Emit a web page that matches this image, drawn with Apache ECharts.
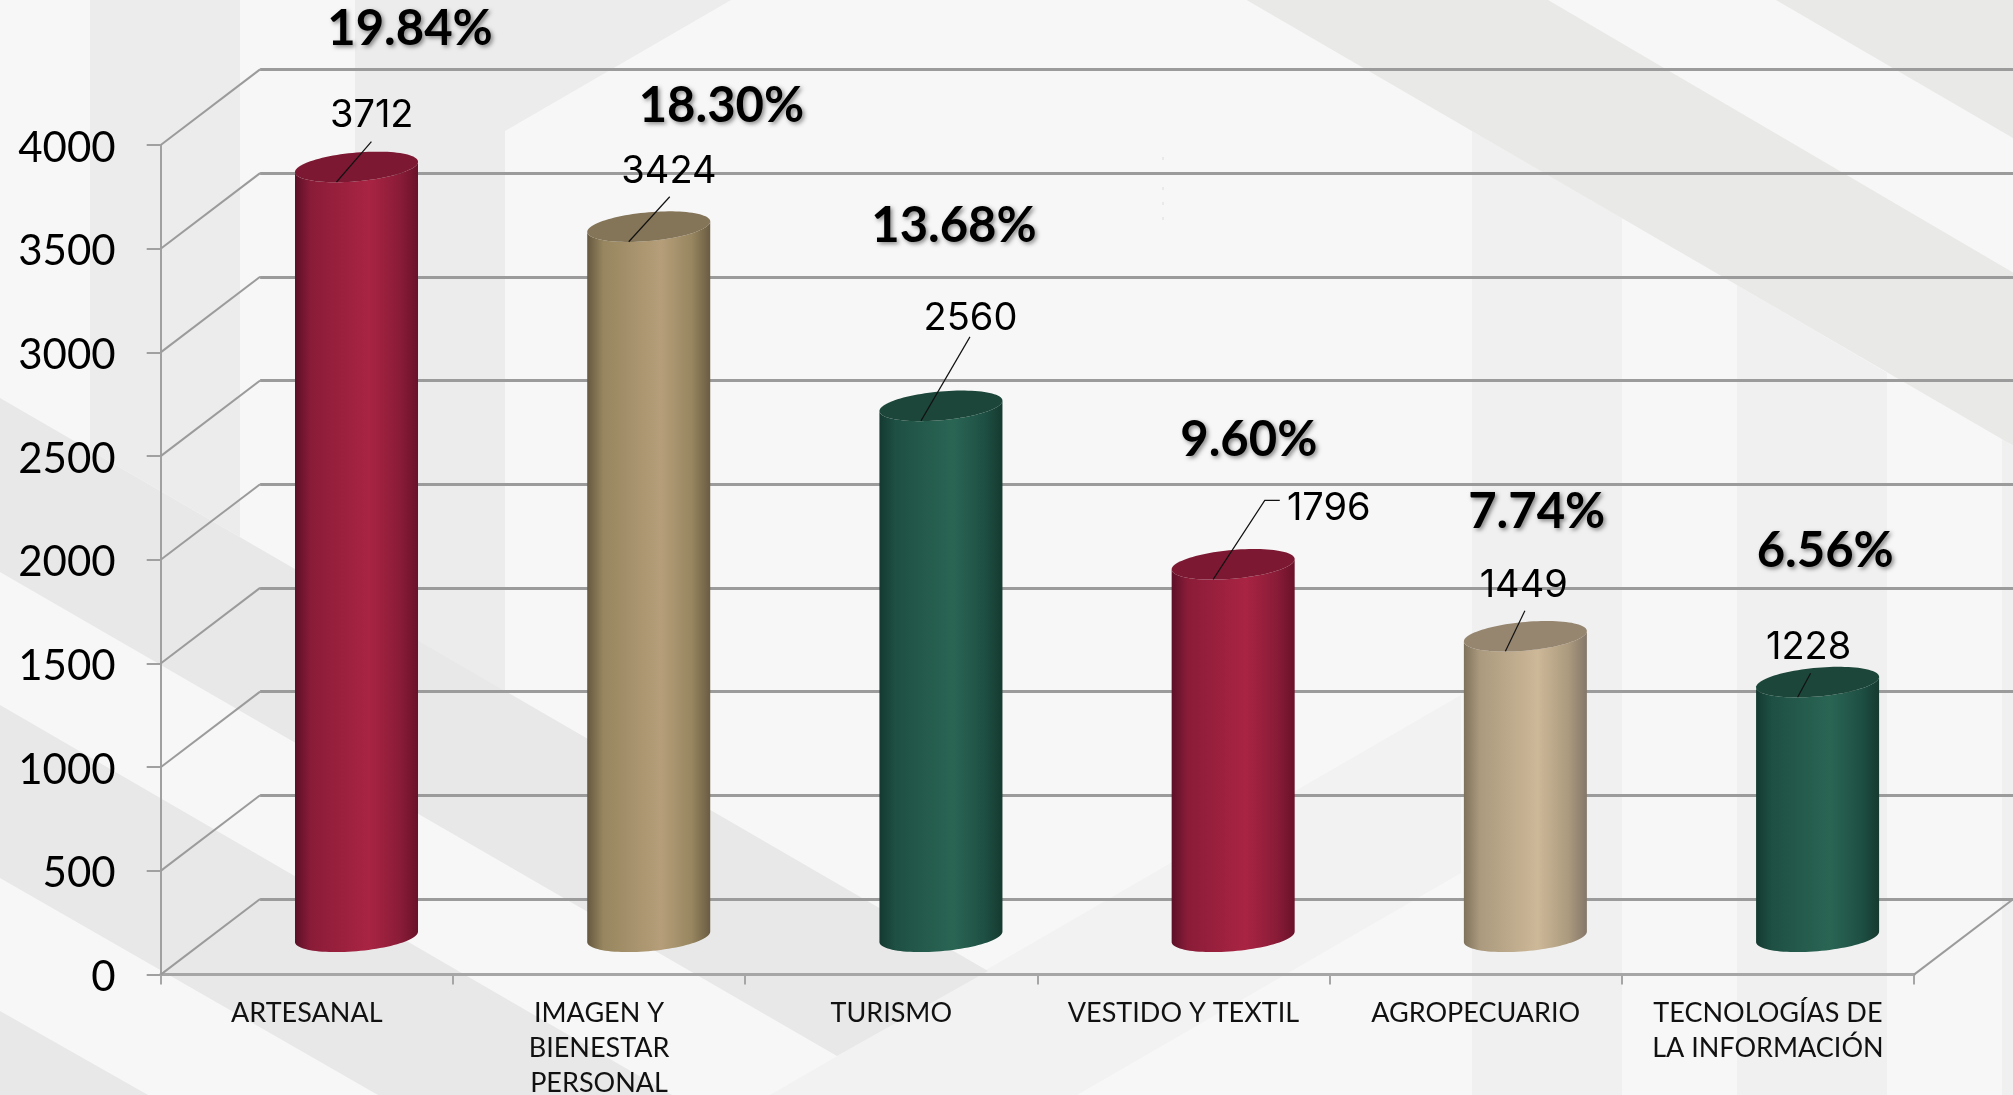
<!DOCTYPE html>
<html>
<head>
<meta charset="utf-8">
<style>html,body{margin:0;padding:0;background:#f7f7f7}#c{width:2013px;height:1095px}</style>
<script src="https://cdn.jsdelivr.net/npm/echarts@6/dist/echarts.min.js"></script>
</head>
<body>
<div id="c"></div>
<script>
// ---- data ----
const categories = ['ARTESANAL', 'IMAGEN Y\nBIENESTAR\nPERSONAL', 'TURISMO', 'VESTIDO Y TEXTIL', 'AGROPECUARIO', 'TECNOLOGÍAS DE\nLA INFORMACIÓN'];
const values = [3712, 3424, 2560, 1796, 1449, 1228];
const shares = [19.84, 18.30, 13.68, 9.60, 7.74, 6.56];
const yTicks = [0, 500, 1000, 1500, 2000, 2500, 3000, 3500, 4000];

// ---- layout (offsets from each cylinder's front lip) ----
const shareOffsets = [[73.5,-153],[92.7,-136],[33,-194.4],[35.6,-139],[31.3,-139],[27.6,-145.5]];
const valueOffsets = [[35.2,-66.5],[40.2,-70],[49.5,-102.5],[115.6,-70.5],[18.3,-65.5],[11,-49.5]];
const leaderOffsets = [[[34.9,-40.4]],[[41,-45]],[[49,-84]],[[51.6,-79],[66.6,-79]],[[19.5,-40.5]],[[13,-24]]];

// ---- style ----
const FONT = 'Lato';
const G = echarts.graphic.LinearGradient;
const stops = (a,b,c,d) => new G(0,0,1,0,[{offset:0,color:a},{offset:.13,color:b},{offset:.6,color:c},{offset:.85,color:b},{offset:1,color:d}]);
const RED = {side:stops('#5c1028','#8a1c38','#a92443','#6a1129'), top:'#7c1832'};
const TAN = {side:stops('#655840','#97865f','#b59e79','#6a5c43'), top:'#847458'};
const SAND = {side:stops('#7f725c','#ab9a7e','#cdb898','#85776a'), top:'#968670'};
const GREEN = {side:stops('#143930','#1e5043','#2a6554','#163a30'), top:'#1b4639'};
const palette = [RED, TAN, GREEN, RED, SAND, GREEN];

const GRID_W = 1753.3, GRID_H = 829.6, LEFT = 160.7, TOP = 145;
const DEPTH = [99.4, -75.6];      // oblique depth of the floor
const BAR_RATIO = 0.421;
const GRID_LINE = '#9b9b9b';

function ellipsePoint(cx, cy, rx, t){
  // tilted ellipse used for the cylinder ends
  return [cx + rx*Math.cos(t), cy - 0.0846*rx*Math.cos(t) + 0.234*rx*Math.sin(t)];
}
function arc(cx, cy, rx, from, to, n){
  const p = [];
  for(let i=0;i<=n;i++){ p.push(ellipsePoint(cx, cy, rx, from + (to-from)*i/n)); }
  return p;
}

function renderBar(params, api){
  const i = api.value(0), v = api.value(1);
  const top = api.coord([i, v]), base = api.coord([i, 0]);
  const rx = api.size([1,0])[0]*BAR_RATIO/2;
  const cx = top[0] + DEPTH[0]/2, cyT = top[1] + DEPTH[1]/2, cyB = base[1] + DEPTH[1]/2;
  const lower = arc(cx, cyB, rx, Math.PI, 0, 48);
  const upper = arc(cx, cyT, rx, 0, Math.PI, 48);   // front lip of top, right to left
  const sidePts = lower.concat(upper);
  const topPts = arc(cx, cyT, rx, 0, 2*Math.PI, 96);
  const pal = palette[i];
  const lip = [cx - rx*0.325, cyT + rx*0.245];
  const children = [
    {type:'polygon', shape:{points:sidePts}, style:{fill:pal.side}},
    {type:'polygon', shape:{points:topPts}, style:{fill:pal.top}}
  ];
  const lpts = [lip].concat(leaderOffsets[i].map(o => [lip[0]+o[0], lip[1]+o[1]]));
  children.push({type:'polyline', shape:{points:lpts}, style:{fill:null, stroke:'#111', lineWidth:1.2}});
  children.push({type:'text', style:{text:String(values[i]), x:lip[0]+valueOffsets[i][0], y:lip[1]+valueOffsets[i][1],
    fill:'#000', fontFamily:'Inter', fontWeight:400, fontSize:38, textAlign:'center', textVerticalAlign:'middle'}});
  children.push({type:'text', style:{text:shares[i].toFixed(2)+'%', x:lip[0]+shareOffsets[i][0], y:lip[1]+shareOffsets[i][1],
    fill:'#000', fontFamily:FONT, fontSize:49, fontWeight:'bold', textAlign:'center', textVerticalAlign:'middle',
    textShadowColor:'rgba(0,0,0,.45)', textShadowBlur:4, textShadowOffsetX:2, textShadowOffsetY:2}});
  return {type:'group', children};
}

function renderDepth(params, api){
  const v = api.value(0);
  const y = api.coord([0, v])[1];
  const r = params.coordSys;
  const seg = x => ({type:'line', shape:{x1:x, y1:y, x2:x+DEPTH[0], y2:y+DEPTH[1]}, style:{stroke:GRID_LINE, lineWidth:2}});
  const kids = [seg(r.x)];
  if(v === 0) kids.push(seg(r.x + r.width));
  return {type:'group', children:kids};
}

// ---- faint background artwork (page decoration, not data) ----
const poly = (pts, fill) => ({type:'polygon', z:-100, silent:true, shape:{points:pts}, style:{fill}});
const background = [
  poly([[1472,131],[1622,218],[1622,1095],[1472,1095]], '#f0f0f0'),
  poly([[1737,285],[1887,373],[1887,1095],[1737,1095]], '#f0f0f0'),
  poly([[2002,439],[2013,446],[2013,1095],[2002,1095]], '#f0f0f0'),
  poly([[1461,695],[1461,873],[1077,1095],[770,1095]], '#f2f2f2'),
  poly([[90,0],[240,0],[240,537],[90,450]], '#ececec'),
  poly([[355,0],[731,0],[505,131],[505,691],[355,604]], '#ececec'),
  poly([[0,398],[988,971],[837,1056],[0,572]], '#e8e8e8'),
  poly([[0,705],[672,1095],[378,1095],[0,878]], '#e8e8e8'),
  poly([[0,1011],[148,1095],[0,1095]], '#e8e8e8'),
  poly([[1246.6,0],[1548,0],[2013,272.6],[2013,445.6]], '#e9e9e7'),
  poly([[1776,0],[2013,0],[2013,138]], '#e9e9e7'),
  {type:'line', z:-99, silent:true, shape:{x1:1163,y1:157,x2:1163,y2:228}, style:{stroke:'#dcdcdc', lineWidth:1, lineDash:[3,12]}}
];

const chart = echarts.init(document.getElementById('c'));
chart.setOption({
  animation:false,
  backgroundColor:'#f7f7f7',
  textStyle:{fontFamily:FONT},
  graphic:{elements:background},
  grid:[
    {left:LEFT, top:TOP, width:GRID_W, height:GRID_H, outerBoundsMode:'none'},
    {left:LEFT+DEPTH[0], top:TOP+DEPTH[1], width:GRID_W, height:GRID_H, outerBoundsMode:'none'}
  ],
  xAxis:[
    {type:'category', gridIndex:0, data:categories, boundaryGap:true,
      axisLine:{show:true, lineStyle:{color:'#a6a6a6', width:3}},
      axisTick:{show:true, alignWithLabel:false, length:10, lineStyle:{color:'#a6a6a6', width:2}},
      axisLabel:{show:true, interval:0, color:'#111', fontFamily:FONT, fontSize:27, lineHeight:35, margin:21, verticalAlign:'top'},
      splitLine:{show:false}},
    {type:'category', gridIndex:1, data:categories, show:false}
  ],
  yAxis:[
    {type:'value', gridIndex:0, min:0, max:4000, interval:500,
      axisLine:{show:true, lineStyle:{color:'#a0a0a0', width:2}},
      axisTick:{show:true, length:14, lineStyle:{color:'#a0a0a0', width:2}},
      axisLabel:{show:true, margin:45, formatter:v => '{t|' + v + '}',
        rich:{t:{color:'#000', fontFamily:FONT, fontSize:42, padding:[6,0,0,0]}}},
      splitLine:{show:false}},
    {type:'value', gridIndex:1, min:0, max:4000, interval:500,
      axisLine:{show:false}, axisTick:{show:false}, axisLabel:{show:false},
      splitLine:{show:true, lineStyle:{color:GRID_LINE, width:3}}}
  ],
  series:[
    {type:'custom', xAxisIndex:0, yAxisIndex:0, z:2, clip:false, silent:true,
      data:yTicks.map(v => [v]), encode:{y:0}, renderItem:renderDepth},
    {type:'custom', xAxisIndex:0, yAxisIndex:0, z:5, clip:false, silent:true,
      data:values.map((v,i) => [i, v]), encode:{x:0, y:1}, renderItem:renderBar}
  ]
});
</script>
</body>
</html>
